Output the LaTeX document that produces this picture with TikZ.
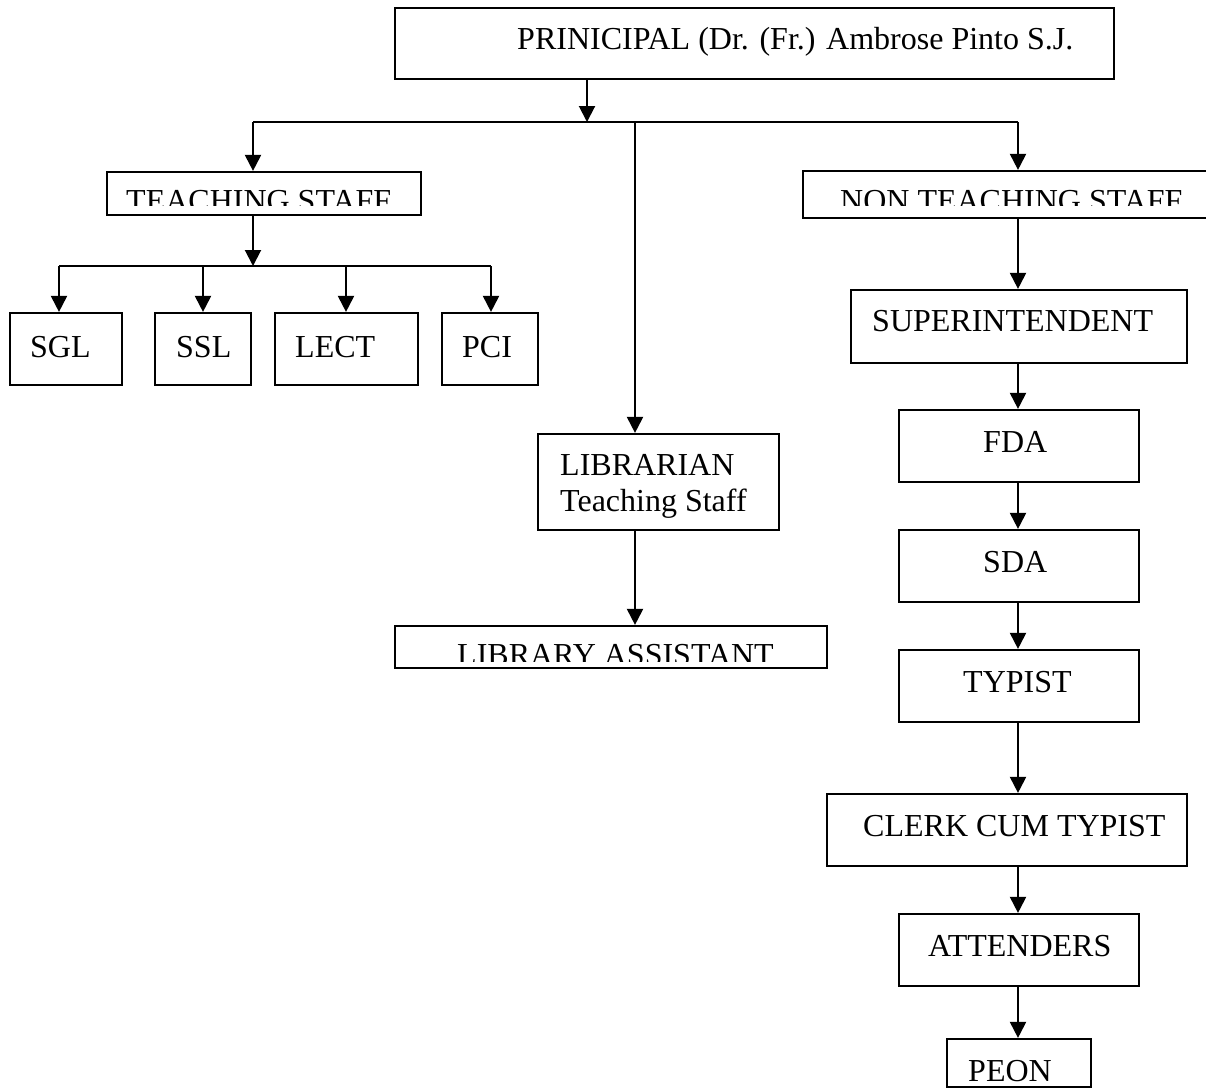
\documentclass[tikz,border=0pt]{standalone}
\usepackage{fontspec}
\setmainfont{Liberation Serif}
\usetikzlibrary{arrows.meta}
\tikzset{
  box/.style={draw=black, line width=2.2pt, rectangle, inner sep=0pt},
  txt/.style={anchor=base west, inner sep=0pt, font=\fontsize{32}{38}\selectfont},
  conn/.style={draw=black, line width=2pt},
  arr/.style={conn, -{Triangle[length=16pt,width=16pt]}},
}
\begin{document}
\begin{tikzpicture}[x=1pt,y=-1pt]
\clip (0,0) rectangle (1206,1088);
\fill[white] (0,0) rectangle (1206,1088);

% boxes
\node[box, minimum width=719pt, minimum height=71pt] (prin) at (754.5,43.5) {};
\node[box, minimum width=314pt, minimum height=43pt] (teach) at (264,193.5) {};
\node[box, minimum width=427pt, minimum height=47pt] (nonteach) at (1016.5,194.5) {};
\node[box, minimum width=112pt, minimum height=72pt] (sgl) at (66,349) {};
\node[box, minimum width=96pt, minimum height=72pt] (ssl) at (203,349) {};
\node[box, minimum width=143pt, minimum height=72pt] (lect) at (346.5,349) {};
\node[box, minimum width=96pt, minimum height=72pt] (pci) at (490,349) {};
\node[box, minimum width=241pt, minimum height=96pt] (lib) at (658.5,482) {};
\node[box, minimum width=432pt, minimum height=42pt] (libass) at (611,647) {};
\node[box, minimum width=336pt, minimum height=73pt] (sup) at (1019,326.5) {};
\node[box, minimum width=240pt, minimum height=72pt] (fda) at (1019,446) {};
\node[box, minimum width=240pt, minimum height=72pt] (sda) at (1019,566) {};
\node[box, minimum width=240pt, minimum height=72pt] (typ) at (1019,686) {};
\node[box, minimum width=360pt, minimum height=72pt] (clerk) at (1007,830) {};
\node[box, minimum width=240pt, minimum height=72pt] (att) at (1019,950) {};
\node[box, minimum width=144pt, minimum height=48pt] (peon) at (1019,1063) {};

% texts
\node[txt] (tprin) at (517,49) {PRINICIPAL (Dr. (Fr.) Ambrose Pinto S.J.};
\begin{scope}
  \clip (107,172) rectangle (421,205);
  \node[txt] (tteach) at (126,211) {TEACHING STAFF};
\end{scope}
\begin{scope}
  \clip (803,171) rectangle (1230,205);
  \node[txt] (tnonteach) at (840,211) {NON TEACHING STAFF};
\end{scope}
\node[txt] (tsgl) at (30,357) {SGL};
\node[txt] (tssl) at (176,357) {SSL};
\node[txt] (tlect) at (295,357) {LECT};
\node[txt] (tpci) at (462,357) {PCI};
\node[txt] (tlib1) at (560,475) {LIBRARIAN};
\node[txt] (tlib2) at (560,511) {Teaching Staff};
\begin{scope}
  \clip (395,626) rectangle (827,661);
  \node[txt] (tlibass) at (457,665) {LIBRARY ASSISTANT};
\end{scope}
\node[txt] (tsup) at (872,331) {SUPERINTENDENT};
\node[txt] (tfda) at (983,452) {FDA};
\node[txt] (tsda) at (983,572) {SDA};
\node[txt] (ttyp) at (963,692) {TYPIST};
\node[txt] (tclerk) at (863,836) {CLERK CUM TYPIST};
\node[txt] (tatt) at (928,956) {ATTENDERS};
\begin{scope}
  \clip (947,1039) rectangle (1091,1085);
  \node[txt] (tpeon) at (968,1081) {PEON};
\end{scope}

% junction coordinates
\coordinate (pj) at (587,122);
\coordinate (tx) at (253,122);
\coordinate (lx) at (635,122);
\coordinate (nx) at (1018,122);
\coordinate (tj) at (253,266);
\coordinate (x1) at (59,266);
\coordinate (x2) at (203,266);
\coordinate (x3) at (346,266);
\coordinate (x4) at (491,266);

% connectors
\draw[arr] (prin.south -| pj) -- (pj);
\draw[conn] (tx) -- (nx);
\draw[arr] (tx) -- (teach.north -| tx);
\draw[arr] (lx) -- (lib.north -| lx);
\draw[arr] (nx) -- (nonteach.north -| nx);

\draw[arr] (teach.south -| tj) -- (tj);
\draw[conn] (x1) -- (x4);
\draw[arr] (x1) -- (sgl.north -| x1);
\draw[arr] (x2) -- (ssl.north -| x2);
\draw[arr] (x3) -- (lect.north -| x3);
\draw[arr] (x4) -- (pci.north -| x4);

\draw[arr] (lib.south -| lx) -- (libass.north -| lx);

\draw[arr] (nonteach.south -| nx) -- (sup.north -| nx);
\draw[arr] (sup.south -| nx) -- (fda.north -| nx);
\draw[arr] (fda.south -| nx) -- (sda.north -| nx);
\draw[arr] (sda.south -| nx) -- (typ.north -| nx);
\draw[arr] (typ.south -| nx) -- (clerk.north -| nx);
\draw[arr] (clerk.south -| nx) -- (att.north -| nx);
\draw[arr] (att.south -| nx) -- (peon.north -| nx);
\end{tikzpicture}
\end{document}
